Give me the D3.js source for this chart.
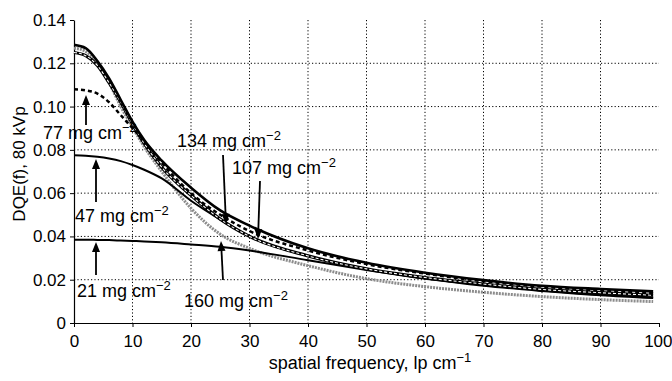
<!DOCTYPE html>
<html lang="en">
<head>
  <meta charset="UTF-8">
  <title>DQE(f) at 80 kVp</title>
  <script src="https://d3js.org/d3.v7.min.js"></script>
  <style>
    body { margin: 0; background: #fff; overflow: hidden; }
    svg { font-family: "Liberation Sans", Arial, sans-serif; }
    .axis text { font-size: 17px; fill: #000; }
    .axis path, .axis line { stroke: #000; }
    .grid line { stroke: #000; stroke-width: 1; stroke-dasharray: 1.2,2.2; }
    .note { font-size: 18px; fill: #000; }
  </style>
</head>
<body>
<svg id="chart" width="672" height="381"></svg>
<script>
// spatial frequency samples, lp/cm
const freq = [0, 2, 4, 6, 8, 10, 12, 15, 20, 25, 30, 40, 50, 60, 70, 80, 90, 99];

// DQE(f), one array per phosphor coating weight
const dqe21  = [0.0385, 0.0385, 0.0384, 0.0383, 0.0381, 0.0379, 0.0377, 0.0373, 0.0363, 0.0352, 0.0335, 0.0290, 0.0245, 0.0205, 0.0175, 0.0150, 0.0130, 0.0118];
const dqe47  = [0.0775, 0.0773, 0.0768, 0.0760, 0.0748, 0.0730, 0.0708, 0.0668, 0.0565, 0.0478, 0.0400, 0.0310, 0.0250, 0.0205, 0.0172, 0.0148, 0.0128, 0.0115];
const dqe77  = [0.1080, 0.1075, 0.1060, 0.1020, 0.0960, 0.0900, 0.0840, 0.0740, 0.0600, 0.0500, 0.0425, 0.0335, 0.0272, 0.0228, 0.0193, 0.0168, 0.0150, 0.0138];
const dqe107 = [0.1250, 0.1235, 0.1190, 0.1110, 0.1020, 0.0920, 0.0830, 0.0720, 0.0590, 0.0480, 0.0400, 0.0310, 0.0250, 0.0210, 0.0180, 0.0155, 0.0140, 0.0128];
const dqe134 = [0.1285, 0.1270, 0.1210, 0.1130, 0.1030, 0.0930, 0.0845, 0.0750, 0.0625, 0.0520, 0.0450, 0.0345, 0.0278, 0.0232, 0.0198, 0.0172, 0.0157, 0.0146];
const dqe160 = [0.1270, 0.1255, 0.1200, 0.1110, 0.1000, 0.0905, 0.0815, 0.0700, 0.0530, 0.0410, 0.0345, 0.0265, 0.0205, 0.0168, 0.0142, 0.0122, 0.0108, 0.0099];

const xTicks = [0, 10, 20, 30, 40, 50, 60, 70, 80, 90, 100];
const yTicks = [0, 0.02, 0.04, 0.06, 0.08, 0.10, 0.12, 0.14];

const svg = d3.select("#chart");
const x = d3.scaleLinear().domain([0, 100]).range([74, 659]);
const y = d3.scaleLinear().domain([0, 0.14]).range([323, 20]);

// dotted grid
const grid = svg.append("g").attr("class", "grid");
grid.selectAll(".gx").data(xTicks.filter(d => d > 0 && d < 100)).join("line")
  .attr("x1", d => x(d)).attr("x2", d => x(d))
  .attr("y1", y(0.14)).attr("y2", y(0));
grid.selectAll(".gy").data(yTicks.filter(d => d > 0 && d < 0.14)).join("line")
  .attr("x1", x(0)).attr("x2", x(100))
  .attr("y1", d => y(d)).attr("y2", d => y(d));

// axes
const xAxis = svg.append("g").attr("class", "axis")
  .attr("transform", `translate(0,${y(0)})`)
  .call(d3.axisBottom(x).tickValues(xTicks).tickSize(4).tickPadding(8).tickSizeOuter(0));
// last label sits against the right edge
xAxis.selectAll(".tick text").filter(d => d === 100).attr("text-anchor", "end").attr("x", 13);
svg.append("g").attr("class", "axis")
  .attr("transform", `translate(${x(0)},0)`)
  .call(d3.axisLeft(y).tickValues(yTicks).tickSize(4).tickPadding(4).tickSizeOuter(0)
    .tickFormat(d => d === 0 ? "0" : d3.format(".2f")(d)));
svg.selectAll(".axis .domain").attr("stroke-width", 1.2);

// curves
const line = d3.line().x(d => x(d[0])).y(d => y(d[1])).curve(d3.curveMonotoneX);
const pts = arr => freq.map((f, i) => [f, arr[i]]);
const curves = svg.append("g").attr("fill", "none");

curves.append("path").attr("d", line(pts(dqe160)))
  .attr("stroke", "#8c8c8c").attr("stroke-width", 3).attr("stroke-dasharray", "2,1");
curves.append("path").attr("d", line(pts(dqe21))).attr("stroke", "#000").attr("stroke-width", 2);
curves.append("path").attr("d", line(pts(dqe47))).attr("stroke", "#000").attr("stroke-width", 2);
curves.append("path").attr("d", line(pts(dqe107))).attr("stroke", "#000").attr("stroke-width", 3.2);
curves.append("path").attr("d", line(pts(dqe107)))
  .attr("stroke", "#fff").attr("stroke-width", 1.1).attr("stroke-dasharray", "3,2");
curves.append("path").attr("d", line(pts(dqe77)))
  .attr("stroke", "#000").attr("stroke-width", 2.5).attr("stroke-dasharray", "4,3");
curves.append("path").attr("d", line(pts(dqe134))).attr("stroke", "#000").attr("stroke-width", 2.6);

// annotations: label text, arrow tail and arrow tip
const notes = [
  { t: "77",  tx: 43,  ty: 139, x1: 86,  y1: 125, x2: 86,  y2: 95 },
  { t: "47",  tx: 75,  ty: 222, x1: 96,  y1: 202, x2: 96,  y2: 159 },
  { t: "21",  tx: 77,  ty: 297, x1: 96,  y1: 275, x2: 96,  y2: 242 },
  { t: "134", tx: 177, ty: 147, x1: 223, y1: 155, x2: 226, y2: 224 },
  { t: "107", tx: 232, ty: 174, x1: 260, y1: 181, x2: 258, y2: 239 },
  { t: "160", tx: 184, ty: 307, x1: 223, y1: 280, x2: 221, y2: 241 }
];
const ann = svg.append("g");
notes.forEach(n => {
  const a = Math.atan2(n.y2 - n.y1, n.x2 - n.x1);
  const L = 10, W = 4;
  const bx = n.x2 - L * Math.cos(a), by = n.y2 - L * Math.sin(a);
  ann.append("line").attr("x1", n.x1).attr("y1", n.y1).attr("x2", bx).attr("y2", by)
    .attr("stroke", "#000").attr("stroke-width", 1.8);
  ann.append("path")
    .attr("d", `M${n.x2},${n.y2}L${bx - W * Math.sin(a)},${by + W * Math.cos(a)}L${bx + W * Math.sin(a)},${by - W * Math.cos(a)}Z`)
    .attr("fill", "#000");
  const txt = ann.append("text").attr("class", "note").attr("x", n.tx).attr("y", n.ty);
  txt.append("tspan").text(`${n.t} mg cm`);
  txt.append("tspan").attr("dy", -7).attr("font-size", 13).text("\u22122");
});

// axis titles
const xt = svg.append("text").attr("class", "note").attr("x", 370).attr("y", 369)
  .attr("text-anchor", "middle");
xt.append("tspan").text("spatial frequency, lp cm");
xt.append("tspan").attr("dy", -7).attr("font-size", 13).text("\u22121");

svg.append("text").attr("class", "note")
  .attr("transform", "translate(25,164) rotate(-90)")
  .attr("text-anchor", "middle")
  .style("font-size", "17px")
  .text("DQE(f), 80 kVp");
</script>
</body>
</html>
